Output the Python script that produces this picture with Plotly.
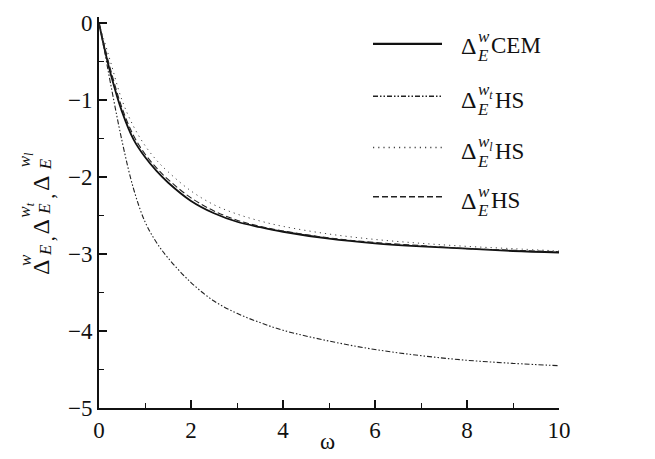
import plotly.graph_objects as go

# ---- data ----
omega = [0, 0.1, 0.25, 0.5, 0.75, 1.0, 1.25, 1.5, 2.0, 2.5, 3.0, 3.5, 4.0, 5.0, 6.0, 7.0, 8.0, 9.0, 10.0]
cem_w = [0, -0.28, -0.65, -1.15, -1.51, -1.74, -1.92, -2.07, -2.31, -2.47, -2.58, -2.65, -2.71, -2.80, -2.86, -2.90, -2.93, -2.96, -2.98]
hs_wt = [0, -0.30, -0.78, -1.53, -2.15, -2.58, -2.85, -3.05, -3.37, -3.61, -3.77, -3.89, -3.99, -4.13, -4.24, -4.32, -4.38, -4.42, -4.45]
hs_wl = [0, -0.20, -0.50, -1.0, -1.34, -1.59, -1.78, -1.93, -2.18, -2.36, -2.48, -2.57, -2.64, -2.74, -2.81, -2.86, -2.90, -2.93, -2.96]
hs_w = [0, -0.25, -0.60, -1.10, -1.46, -1.70, -1.88, -2.03, -2.27, -2.44, -2.56, -2.64, -2.70, -2.79, -2.85, -2.89, -2.93, -2.95, -2.97]

x_ticks = [0, 2, 4, 6, 8, 10]
y_ticks = [0, -1, -2, -3, -4, -5]
y_tick_text = ["0", "\u22121", "\u22122", "\u22123", "\u22124", "\u22125"]

FONT = "Liberation Serif"

# plot-area geometry (pixels)
W, H = 655, 459
L, R = 99, 559
T0, B0 = 18, 408  # y=0 and y=-5 pixel positions
ytop = 0.08
upp = (B0 - T0) / 5.0
T = T0 - ytop * upp

styles = [
    dict(name="cem", y=cem_w, color="#111", width=1.8, dash="solid"),
    dict(name="wt", y=hs_wt, color="#222", width=1.1, dash="5px,2px,1.5px,2px,1.5px,2px"),
    dict(name="wl", y=hs_wl, color="#444", width=1.0, dash="1.2px,4px"),
    dict(name="w", y=hs_w, color="#222", width=1.1, dash="6px,3px"),
]

fig = go.Figure()
for s in styles:
    fig.add_trace(go.Scatter(x=omega, y=s["y"], mode="lines", line_shape="spline",
                             line=dict(color=s["color"], width=s["width"], dash=s["dash"]),
                             showlegend=False, hoverinfo="skip"))


def px(x, y):
    return (x - L) / (R - L), (B0 - y) / (B0 - T)


annotations = []
shapes = []


def text_at(x, y, txt, size, italic=False, angle=0, anchor="center"):
    xx, yy = px(x, y)
    if italic:
        txt = "<i>" + txt + "</i>"
    annotations.append(dict(x=xx, y=yy, xref="paper", yref="paper", text=txt, showarrow=False,
                            xanchor=anchor, yanchor="middle", textangle=angle,
                            font=dict(family=FONT, size=size, color="#111")))


# ---- manual legend ----
leg_line_y = [39, 92, 144, 194]
leg_text_y = [41, 96, 148, 198]
sups = ["w", "w<sub>t</sub>", "w<sub>l</sub>", "w"]
labels = ["CEM", "HS", "HS", "HS"]
label_x = [489, 493, 493, 489]
for i, s in enumerate(styles):
    x0, y0 = px(373, leg_line_y[i])
    x1, _ = px(442, leg_line_y[i])
    shapes.append(dict(type="line", xref="paper", yref="paper", x0=x0, x1=x1, y0=y0, y1=y0,
                       line=dict(color=s["color"], width=s["width"] + 0.4, dash=s["dash"])))
    ty = leg_text_y[i]
    text_at(459, ty, "\u0394", 24, anchor="left")
    text_at(476, ty - 9, sups[i], 17, italic=True, anchor="left")
    text_at(475, ty + 10, "E", 17, italic=True, anchor="left")
    text_at(label_x[i], ty, labels[i], 23, anchor="left")

# ---- rotated y-axis title ----
# (delta_y, sup text, sup_y, E_y, comma_y)
groups = [
    (266, "w", 258, 248, 237),
    (225, "w<sub>t</sub>", 208, 206, 194),
    (181, "w<sub>l</sub>", 157, 161, None),
]
for dy, sup, sy, ey, cy in groups:
    text_at(41, dy, "\u0394", 24, angle=-90)
    text_at(26, sy, sup, 17, italic=True, angle=-90)
    text_at(45, ey, "E", 17, italic=True, angle=-90)
    if cy is not None:
        text_at(47, cy, ",", 20, angle=-90)

# x-axis title
text_at(327, 442, "\u03c9", 23)

axis_common = dict(showgrid=False, zeroline=False, showline=True, linecolor="#111", linewidth=2,
                   ticks="inside", ticklen=8, tickwidth=1.5, tickcolor="#111",
                   tickfont=dict(family=FONT, size=23, color="#111"))

fig.update_layout(
    width=W, height=H,
    margin=dict(l=L, r=W - R, t=T, b=H - B0, pad=0),
    paper_bgcolor="white", plot_bgcolor="white",
    font=dict(family=FONT),
    xaxis=dict(range=[0, 10], tickvals=x_ticks, ticktext=[str(v) for v in x_ticks],
               minor=dict(dtick=1, ticks="inside", ticklen=5, tickcolor="#111", tickwidth=1.2),
               **axis_common),
    yaxis=dict(range=[-5, ytop], tickvals=y_ticks, ticktext=y_tick_text,
               minor=dict(dtick=0.5, ticks="inside", ticklen=5, tickcolor="#111", tickwidth=1.2),
               **axis_common),
    annotations=annotations,
    shapes=shapes,
)

fig.write_html("out.html")
